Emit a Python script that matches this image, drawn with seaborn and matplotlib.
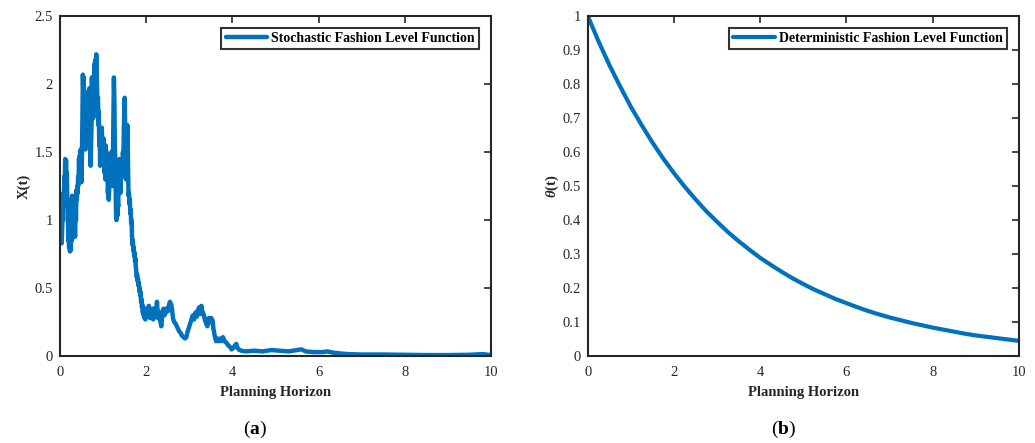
import numpy as np
import pandas as pd
import matplotlib
matplotlib.use("Agg")
import matplotlib.pyplot as plt
from matplotlib.ticker import FuncFormatter
import seaborn as sns

# Simulated fashion level path X(t)
t_stoch = [
    0.00, 0.01, 0.02, 0.03, 0.04, 0.05, 0.06, 0.07, 0.08, 0.09, 0.10, 0.11, 0.12, 0.13,
    0.14, 0.15, 0.16, 0.17, 0.18, 0.19, 0.20, 0.21, 0.22, 0.23, 0.24, 0.25, 0.26, 0.27,
    0.28, 0.29, 0.30, 0.31, 0.32, 0.33, 0.34, 0.35, 0.36, 0.37, 0.38, 0.39, 0.40, 0.41,
    0.42, 0.43, 0.44, 0.45, 0.46, 0.47, 0.48, 0.49, 0.50, 0.51, 0.52, 0.53, 0.54, 0.55,
    0.56, 0.57, 0.58, 0.59, 0.60, 0.61, 0.62, 0.63, 0.64, 0.65, 0.66, 0.67, 0.68, 0.69,
    0.70, 0.71, 0.72, 0.73, 0.74, 0.75, 0.76, 0.77, 0.78, 0.79, 0.80, 0.81, 0.82, 0.83,
    0.84, 0.85, 0.86, 0.87, 0.88, 0.89, 0.90, 0.91, 0.92, 0.93, 0.94, 0.95, 0.96, 0.97,
    0.98, 0.99, 1.00, 1.01, 1.02, 1.03, 1.04, 1.05, 1.06, 1.07, 1.08, 1.09, 1.10, 1.11,
    1.12, 1.13, 1.14, 1.15, 1.16, 1.17, 1.18, 1.19, 1.20, 1.21, 1.22, 1.23, 1.24, 1.25,
    1.26, 1.27, 1.28, 1.29, 1.30, 1.31, 1.32, 1.33, 1.34, 1.35, 1.36, 1.37, 1.38, 1.39,
    1.40, 1.41, 1.42, 1.43, 1.44, 1.45, 1.46, 1.47, 1.48, 1.49, 1.50, 1.51, 1.52, 1.53,
    1.54, 1.55, 1.56, 1.57, 1.58, 1.59, 1.60, 1.61, 1.62, 1.63, 1.64, 1.65, 1.66, 1.67,
    1.68, 1.69, 1.70, 1.71, 1.72, 1.73, 1.74, 1.75, 1.76, 1.77, 1.78, 1.79, 1.80, 1.81,
    1.82, 1.83, 1.84, 1.85, 1.86, 1.87, 1.88, 1.89, 1.90, 1.91, 1.92, 1.93, 1.94, 1.95,
    1.96, 1.97, 1.98, 1.99, 2.00, 2.03, 2.06, 2.08, 2.09, 2.11, 2.13, 2.15, 2.16, 2.18,
    2.20, 2.22, 2.25, 2.27, 2.29, 2.31, 2.33, 2.35, 2.37, 2.40, 2.42, 2.45, 2.47, 2.50,
    2.53, 2.55, 2.58, 2.60, 2.62, 2.65, 2.68, 2.71, 2.74, 2.77, 2.80, 2.83, 2.87, 2.90,
    2.93, 2.96, 2.99, 3.02, 3.05, 3.08, 3.11, 3.14, 3.17, 3.20, 3.23, 3.25, 3.28, 3.30,
    3.33, 3.36, 3.39, 3.42, 3.45, 3.48, 3.51, 3.54, 3.56, 3.59, 3.62, 3.65, 3.68, 3.72,
    3.75, 3.78, 3.82, 3.86, 3.90, 3.94, 3.98, 4.02, 4.06, 4.09, 4.12, 4.16, 4.21, 4.30,
    4.50, 4.70, 4.90, 5.10, 5.30, 5.50, 5.60, 5.70, 5.90, 6.10, 6.20, 6.35, 6.50, 6.70,
    7.00, 7.50, 8.00, 8.50, 9.00, 9.50, 9.80, 10.00]
x_stoch = [
    0.98, 0.90, 0.95, 0.85, 0.83, 0.95, 1.05, 1.00, 1.20, 1.15, 1.32, 1.28, 1.45, 1.38,
    1.44, 1.30, 1.35, 1.10, 1.15, 0.85, 0.90, 0.80, 0.84, 0.77, 0.82, 0.78, 0.90, 0.85,
    1.18, 1.10, 1.15, 0.92, 0.98, 0.88, 0.92, 0.88, 1.05, 1.00, 1.22, 1.15, 1.25, 1.20,
    1.32, 1.26, 1.45, 1.35, 1.48, 1.40, 1.52, 1.45, 1.28, 1.50, 1.75, 2.07, 1.95, 2.05,
    1.80, 1.55, 1.60, 1.52, 1.70, 1.58, 1.72, 1.55, 1.62, 1.55, 1.95, 1.85, 1.97, 1.60,
    1.65, 1.40, 1.55, 1.70, 2.05, 1.90, 2.00, 1.75, 1.85, 2.05, 2.15, 2.00, 2.18, 2.10,
    2.22, 2.12, 1.95, 1.85, 1.90, 1.70, 1.80, 1.55, 1.65, 1.40, 1.45, 1.60, 1.55, 1.68,
    1.50, 1.58, 1.45, 1.60, 1.48, 1.35, 1.45, 1.30, 1.55, 1.45, 1.50, 1.30, 1.38, 1.20,
    1.25, 1.15, 1.22, 1.35, 1.28, 1.45, 1.38, 1.50, 1.40, 1.45, 1.25, 1.55, 1.80, 2.05,
    1.90, 1.60, 1.45, 1.25, 1.05, 1.00, 1.08, 1.03, 1.15, 1.10, 1.30, 1.25, 1.45, 1.35,
    1.20, 1.28, 1.38, 1.32, 1.45, 1.40, 1.50, 1.42, 1.65, 1.80, 1.90, 1.70, 1.45, 1.30,
    1.40, 1.55, 1.70, 1.60, 1.35, 1.18, 1.20, 1.12, 1.15, 1.05, 1.08, 0.98, 1.00, 0.88,
    0.82, 0.85, 0.78, 0.80, 0.74, 0.76, 0.70, 0.72, 0.65, 0.62, 0.58, 0.60, 0.55, 0.57,
    0.52, 0.54, 0.48, 0.50, 0.45, 0.47, 0.40, 0.42, 0.36, 0.38, 0.32, 0.34, 0.30, 0.33,
    0.28, 0.31, 0.27, 0.33, 0.35, 0.30, 0.37, 0.32, 0.28, 0.33, 0.30, 0.35, 0.27, 0.30,
    0.35, 0.30, 0.40, 0.28, 0.33, 0.28, 0.25, 0.22, 0.30, 0.35, 0.30, 0.32, 0.35, 0.33,
    0.38, 0.40, 0.38, 0.34, 0.28, 0.25, 0.24, 0.22, 0.20, 0.18, 0.17, 0.15, 0.14, 0.13,
    0.14, 0.18, 0.21, 0.24, 0.27, 0.30, 0.27, 0.32, 0.29, 0.34, 0.36, 0.31, 0.37, 0.33,
    0.31, 0.27, 0.24, 0.22, 0.28, 0.25, 0.28, 0.26, 0.20, 0.15, 0.11, 0.13, 0.11, 0.13,
    0.11, 0.14, 0.11, 0.10, 0.08, 0.07, 0.05, 0.06, 0.08, 0.09, 0.06, 0.045, 0.04, 0.035,
    0.040, 0.035, 0.045, 0.040, 0.035, 0.045, 0.050, 0.035, 0.030, 0.030, 0.035, 0.025,
    0.020, 0.015, 0.012, 0.012, 0.010, 0.008, 0.008, 0.010, 0.015, 0.008]

# Deterministic fashion level theta(t)
t_det = [0.00, 0.25, 0.50, 0.75, 1.00, 1.25, 1.50, 1.75, 2.00, 2.25, 2.50, 2.75, 3.00,
         3.25, 3.50, 3.75, 4.00, 4.25, 4.50, 4.75, 5.00, 5.25, 5.50, 5.75, 6.00, 6.25,
         6.50, 6.75, 7.00, 7.25, 7.50, 7.75, 8.00, 8.25, 8.50, 8.75, 9.00, 9.25, 9.50,
         9.75, 10.00]
theta_det = [1.000, 0.925, 0.856, 0.793, 0.733, 0.679, 0.628, 0.581, 0.538, 0.498,
             0.461, 0.426, 0.395, 0.365, 0.338, 0.313, 0.289, 0.268, 0.248, 0.229,
             0.212, 0.196, 0.182, 0.168, 0.156, 0.144, 0.133, 0.123, 0.114, 0.106,
             0.098, 0.091, 0.084, 0.078, 0.072, 0.066, 0.061, 0.057, 0.053, 0.049,
             0.045]

x_ticks = [0, 2, 4, 6, 8, 10]
left_yticks = [0, 0.5, 1, 1.5, 2, 2.5]
right_yticks = [0, 0.1, 0.2, 0.3, 0.4, 0.5, 0.6, 0.7, 0.8, 0.9, 1]

sns.set_theme(style="white")
plt.rcParams["font.family"] = ["Liberation Serif", "DejaVu Serif"]
plt.rcParams["mathtext.fontset"] = "custom"
plt.rcParams["mathtext.it"] = "Liberation Serif:italic:bold"
plt.rcParams["mathtext.bf"] = "Liberation Serif:bold"
plt.rcParams["mathtext.rm"] = "Liberation Serif"

LINE = "#0072BD"
INK = "#262626"

fig = plt.figure(figsize=(10.35, 4.43), dpi=100)
ax1 = fig.add_axes([0.058, 0.196, 0.4164, 0.7675])
ax2 = fig.add_axes([0.568, 0.196, 0.4164, 0.7675])

df1 = pd.DataFrame({"t": t_stoch, "x": x_stoch})
df2 = pd.DataFrame({"t": t_det, "theta": theta_det})

sns.lineplot(data=df1, x="t", y="x", ax=ax1, color=LINE, linewidth=3.2,
             estimator=None, sort=False, label="Stochastic Fashion Level Function")
sns.lineplot(data=df2, x="t", y="theta", ax=ax2, color=LINE, linewidth=3.0,
             estimator=None, label="Deterministic Fashion Level Function")

fmt = FuncFormatter(lambda v, p: f"{v:g}")

for ax, yt, ylim in ((ax1, left_yticks, (0, 2.5)), (ax2, right_yticks, (0, 1))):
    ax.set_xlim(0, 10)
    ax.set_ylim(*ylim)
    ax.set_xticks(x_ticks)
    ax.set_yticks(yt)
    ax.xaxis.set_major_formatter(fmt)
    ax.yaxis.set_major_formatter(fmt)
    ax.tick_params(direction="in", length=5, width=1.2, colors=INK,
                   top=True, right=True, labelsize=10.5)
    ax.tick_params(axis="x", pad=7)
    ax.tick_params(axis="y", pad=5)
    for s in ax.spines.values():
        s.set_color(INK)
        s.set_linewidth(1.5)
    ax.set_xlabel("Planning Horizon", fontsize=10.5, fontweight="bold",
                  color=INK, labelpad=5)
    leg = ax.legend(loc="upper right", fancybox=False, frameon=True,
                    handlelength=3.0, borderpad=0.3, borderaxespad=0.85,
                    handletextpad=0.3, prop={"weight": "bold", "size": 10})
    leg.get_frame().set_edgecolor("black")
    leg.get_frame().set_linewidth(1.5)
    for txt in leg.get_texts():
        txt.set_color("black")

ax1.set_ylabel("X(t)", fontsize=10.5, fontweight="bold", color=INK, labelpad=3)
ax2.set_ylabel(r"$\theta$(t)", fontsize=10.5, fontweight="bold", color=INK, labelpad=1)

fig.text(0.2465, 0.03, r"($\mathbf{a}$)", ha="center", va="center", fontsize=14, color="black")
fig.text(0.7575, 0.03, r"($\mathbf{b}$)", ha="center", va="center", fontsize=14, color="black")

fig.savefig("out.png", dpi=100)
